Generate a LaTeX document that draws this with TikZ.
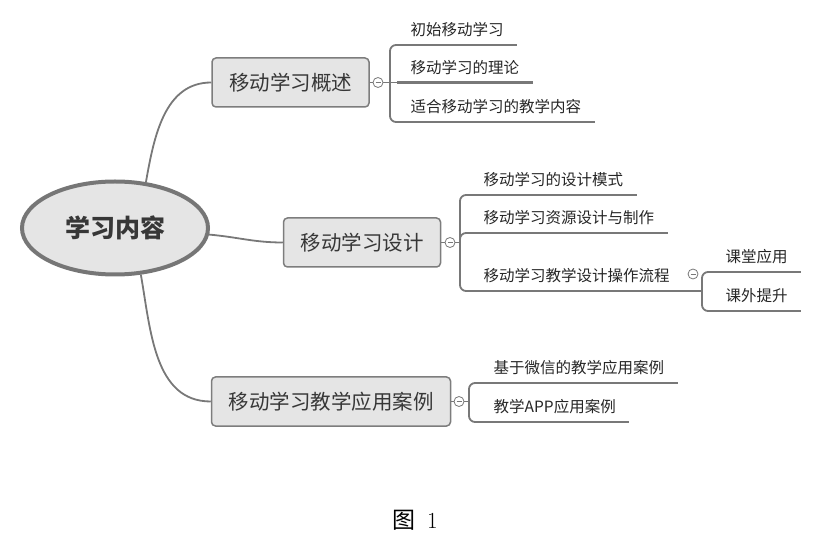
\documentclass[tikz,border=0pt]{standalone}
\usepackage{fontspec}
\newfontfamily\cjk{Noto Sans CJK SC}
\usetikzlibrary{shapes.geometric}

\definecolor{linegray}{RGB}{120,120,120}
\definecolor{boxfill}{RGB}{229,229,229}
\definecolor{boxline}{RGB}{125,125,125}
\definecolor{rootline}{RGB}{118,118,118}
\definecolor{textgray}{RGB}{55,55,55}

\begin{document}
\begin{tikzpicture}[x=1pt, y=1pt,
    root/.style={ellipse, draw=rootline, line width=4pt, fill=boxfill, minimum width=186pt, minimum height=93pt, inner sep=0pt, text=textgray, font=\cjk\bfseries\fontsize{25}{25}\selectfont},
    topic/.style={draw=boxline, fill=boxfill, line width=1.5pt, rounded corners=4pt, minimum height=49pt, inner xsep=17pt, text=textgray, font=\cjk\fontsize{20.5}{20.5}\selectfont},
    leaf/.style={anchor=south west, inner xsep=13.5pt, inner ysep=7pt, text height=11pt, text depth=2pt, text=black!85, font=\cjk\fontsize{15.5}{15.5}\selectfont},
    conn/.style={draw=linegray, line width=1.8pt},
    uline/.style={draw=linegray, line width=2.8pt},
    fold/.style={circle, draw=linegray, fill=white, line width=0.8pt, minimum size=10pt, inner sep=0pt,
        path picture={\draw[linegray, line width=0.8pt] ([xshift=-2.5pt]path picture bounding box.center) -- ([xshift=2.5pt]path picture bounding box.center);}}]
    \useasboundingbox (0,0) rectangle (840,557);

    % main topics
    \node[root] (root) at (115,329) {学习内容};
    \node[topic] (t1) at (290.5,474.5) {移动学习概述};
    \node[topic] (t2) at (362,314.5) {移动学习设计};
    \node[topic] (t3) at (331,155.5) {移动学习教学应用案例};

    \node[fold] (f1) at (378,474.5) {};
    \node[fold] (f2) at (450,314.5) {};
    \node[fold] (f3) at (459,155.5) {};
    \node[fold] (f4) at (693,283) {};

    % subtopics
    \node[leaf] (a1) at (397,512) {初始移动学习};
    \node[leaf] (a2) at (397,474.5) {移动学习的理论};
    \node[leaf] (a3) at (397,435) {适合移动学习的教学内容};
    \node[leaf] (b1) at (470,362) {移动学习的设计模式};
    \node[leaf] (b2) at (470,324) {移动学习资源设计与制作};
    \node[leaf] (b3) at (470,266) {移动学习教学设计操作流程};
    \node[leaf] (b31) at (712,285) {课堂应用};
    \node[leaf] (b32) at (712,246) {课外提升};
    \node[leaf] (c1) at (480,174) {基于微信的教学应用案例};
    \node[leaf] (c2) at (480,135) {教学APP应用案例};

    \coordinate (k1) at (390,474.5);
    \coordinate (k2) at (460,314.5);
    \coordinate (k3) at (469,155.5);
    \coordinate (k4) at (702,266);

    % branches
    \draw[conn] (root.56) to[out=80,in=180] (t1.west);
    \draw[conn] (root.-4) to[out=-5,in=180] (t2.west);
    \draw[conn] (root.-61) to[out=-80,in=180] (t3.west);

    \draw[conn] (t1.east) -- (f1);
    \draw[conn] (t2.east) -- (f2);
    \draw[conn] (t3.east) -- (f3);
    \draw[conn] (f1) -- (a2.south west);
    \draw[conn] (f2) -- (k2);
    \draw[conn] (f3) -- (k3);
    \draw[conn] (b3.south east) -- (k4);

    \draw[conn, rounded corners=6pt] (a1.south west) -| (k1) |- (a3.south west);
    \draw[conn, rounded corners=6pt] (b1.south west) -| (k2) |- (b3.south west);
    \draw[conn, rounded corners=6pt] (k2) |- (b2.south west);
    \draw[conn, rounded corners=6pt] (c1.south west) -| (k3) |- (c2.south west);
    \draw[conn, rounded corners=6pt] (b31.south west) -| (k4) |- (b32.south west);

    \foreach \n in {a1,a2,a3,b1,b2,b3,b31,b32,c1,c2}
        \draw[uline] (\n.south west) -- (\n.south east);

    \node[font=\fontsize{23}{23}\selectfont] (cap) at (415,37) {{\cjk 图}\hspace{12pt}1};
\end{tikzpicture}
\end{document}
